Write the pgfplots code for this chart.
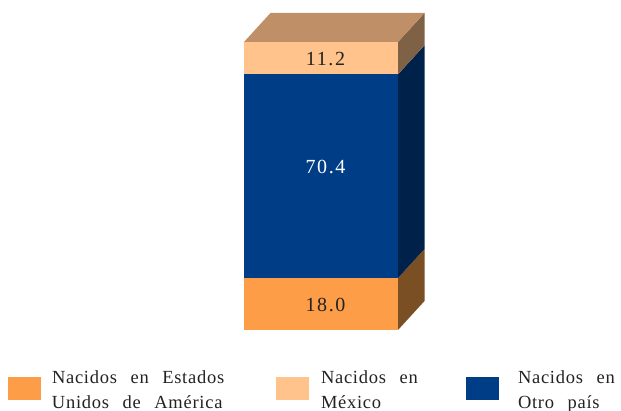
\documentclass[border=0pt]{standalone}
\usepackage{pgfplots}
\pgfplotsset{compat=1.18}
\usepackage{fontspec}
\setmainfont{Liberation Serif}
\newfontfamily\lsfont{Liberation Serif}[LetterSpace=4]
\newfontfamily\lbfont{Liberation Serif}[LetterSpace=8]
\definecolor{orF}{HTML}{FD9D48}
\definecolor{orS}{HTML}{7A4F24}
\definecolor{blF}{HTML}{003D87}
\definecolor{blS}{HTML}{00224A}
\definecolor{ltF}{HTML}{FFC38B}
\definecolor{ltS}{HTML}{7F6245}
\definecolor{topC}{HTML}{BF8F67}
\definecolor{txt}{HTML}{222222}
\newcommand\legtxt[3]{\parbox[c]{#1}{\lsfont\fontsize{18.5}{25}\selectfont\spaceskip=13.5pt plus 1pt\relax\strut #2\strut\\\strut #3\strut}}
\begin{document}
\begin{tikzpicture}
\useasboundingbox (0,0) rectangle (621pt,411pt);
\pgfplotsset{base/.style={hide axis, scale only axis, width=621pt, height=411pt,
  xmin=0, xmax=621, ymin=-28.01, ymax=114.12, clip=false, at={(0,0)}, anchor=south west}}
% side and top faces
\begin{axis}[base]
\addplot[draw=none, fill=orS] coordinates {(398,0) (424.5,10.03) (424.5,28.03) (398,18.0)} -- cycle;
\addplot[draw=none, fill=blS] coordinates {(398,18.0) (424.5,28.03) (424.5,98.43) (398,88.4)} -- cycle;
\addplot[draw=none, fill=ltS] coordinates {(398,88.4) (424.5,98.43) (424.5,109.63) (398,99.6)} -- cycle;
\addplot[draw=none, fill=topC] coordinates {(244,99.6) (398,99.6) (424.5,109.63) (270.5,109.63)} -- cycle;
\end{axis}
% front faces
\begin{axis}[base, ybar stacked, bar width=154pt,
  legend image code/.code={\fill[#1, draw=none] (0pt,-19.5pt) rectangle (33pt,3.5pt);},
  legend columns=3,
  legend style={at={(axis cs:8,-18.32)}, anchor=west, draw=none, fill=none,
    inner sep=0pt, outer sep=0pt, nodes={inner sep=0pt, outer sep=0pt, text=txt},
    /tikz/every odd column/.append style={column sep=0pt},
    /tikz/every even column/.append style={column sep=0pt}},
  legend cell align=left]
\addplot[fill=orF, draw=none, forget plot] coordinates {(321,18.0)};
\addplot[fill=blF, draw=none, forget plot] coordinates {(321,70.4)};
\addplot[fill=ltF, draw=none, forget plot] coordinates {(321,11.2)};
\addlegendimage{fill=orF, draw=none}
\addlegendentry{\hspace*{11pt}\legtxt{224pt}{Nacidos en Estados}{Unidos de América}}
\addlegendimage{fill=ltF, draw=none}
\addlegendentry{\hspace*{12pt}\legtxt{145pt}{Nacidos en}{México}}
\addlegendimage{fill=blF, draw=none}
\addlegendentry{\hspace*{19pt}\legtxt{103pt}{Nacidos en}{Otro país}}
\end{axis}
% value labels
\begin{axis}[base]
\addplot[draw=none, mark=none, nodes near coords, point meta=explicit symbolic,
  every node near coord/.append style={anchor=center, text=txt, font=\lbfont\fontsize{20}{24}\selectfont}]
  coordinates {(325.5,8.8)[18.0] (325.5,93.8)[11.2]};
\addplot[draw=none, mark=none, nodes near coords, point meta=explicit symbolic,
  every node near coord/.append style={anchor=center, text=white, font=\lbfont\fontsize{20}{24}\selectfont}]
  coordinates {(325.5,56.4)[70.4]};
\end{axis}
\end{tikzpicture}
\end{document}
